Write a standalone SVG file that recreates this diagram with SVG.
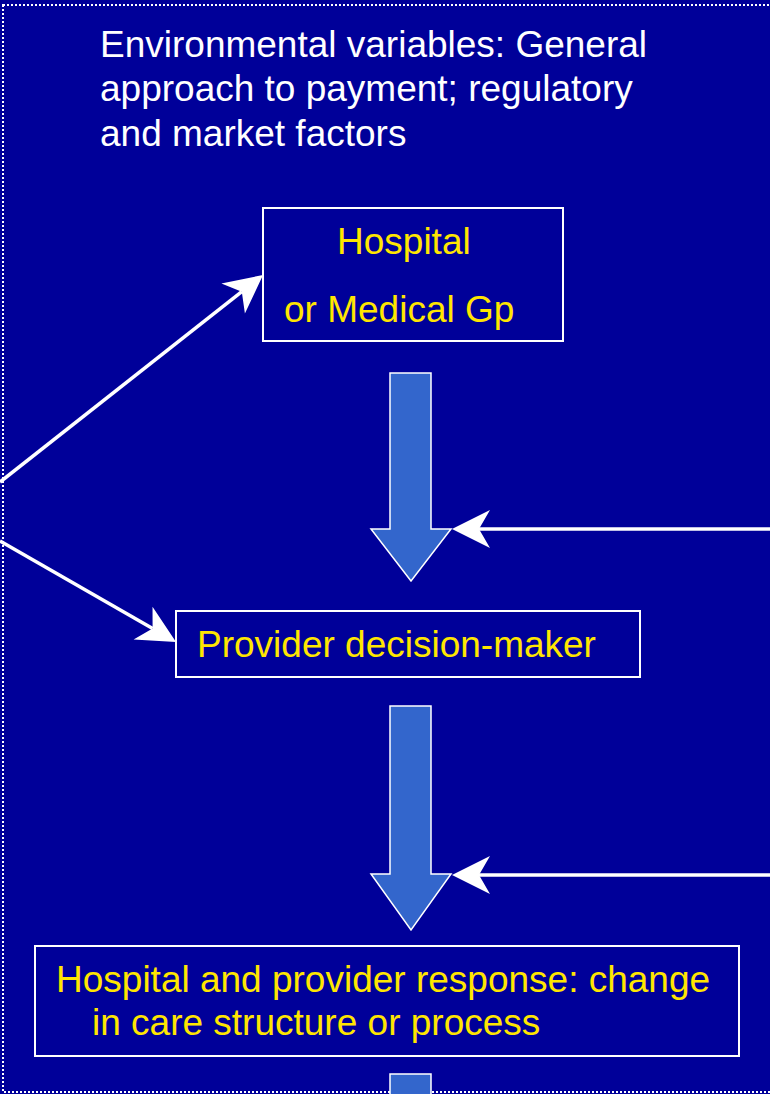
<svg xmlns="http://www.w3.org/2000/svg" width="770" height="1094" viewBox="0 0 770 1094">
<defs>
<style>
.bg{fill:#000099}
.frame{fill:none;stroke:#ffffff;stroke-width:2;stroke-dasharray:2 2}
.box{fill:#000099;stroke:#ffffff;stroke-width:2}
.txt{font-family:"Liberation Sans",Arial,sans-serif;font-size:37px;fill:#FFE600}
.wtxt{font-family:"Liberation Sans",Arial,sans-serif;font-size:37px;fill:#ffffff}
.big{fill:#3366CC;stroke:#ffffff;stroke-width:1.5}
.line{stroke:#ffffff;stroke-width:3.5;fill:none}
</style>
<marker id="ah" markerUnits="userSpaceOnUse" viewBox="-40 -21 42 42" markerWidth="42" markerHeight="42" refX="-27" refY="0" orient="auto">
<path d="M0,0 L-38,-19 L-27,0 L-38,19 Z" fill="#ffffff"/>
</marker>
</defs>
<rect class="bg" x="0" y="0" width="770" height="1094"/>
<rect class="frame" x="3" y="5" width="790" height="1087"/>
<g id="env">
<text class="wtxt" x="100" y="57">Environmental variables: General</text>
<text class="wtxt" x="100" y="101">approach to payment; regulatory</text>
<text class="wtxt" x="100" y="146">and market factors</text>
</g>
<g id="hospital">
<rect class="box" x="263" y="208" width="300" height="133"/>
<text class="txt" x="337" y="254">Hospital</text>
<text class="txt" x="284" y="322">or Medical Gp</text>
</g>
<g id="provider">
<rect class="box" x="176" y="611" width="464" height="66"/>
<text class="txt" x="197" y="657">Provider decision-maker</text>
</g>
<g id="response">
<rect class="box" x="35" y="946" width="704" height="110"/>
<text class="txt" x="56" y="992">Hospital and provider response: change</text>
<text class="txt" x="92" y="1035">in care structure or process</text>
</g>
<g id="connectors">
<path class="big" d="M390,373 L431,373 L431,529 L451,529 L411,581 L371,529 L390,529 Z"/>
<path class="big" d="M390,706 L431,706 L431,874 L451,874 L411,930 L371,874 L390,874 Z"/>
<path class="big" d="M390,1074 L431,1074 L431,1100 L390,1100 Z"/>
<line class="line" x1="770" y1="529" x2="479" y2="529" marker-end="url(#ah)"/>
<line class="line" x1="770" y1="875" x2="479" y2="875" marker-end="url(#ah)"/>
<line class="line" x1="0" y1="482" x2="241.8" y2="291.7" marker-end="url(#ah)"/>
<line class="line" x1="0" y1="541" x2="152.6" y2="628.6" marker-end="url(#ah)"/>
</g>
</svg>
